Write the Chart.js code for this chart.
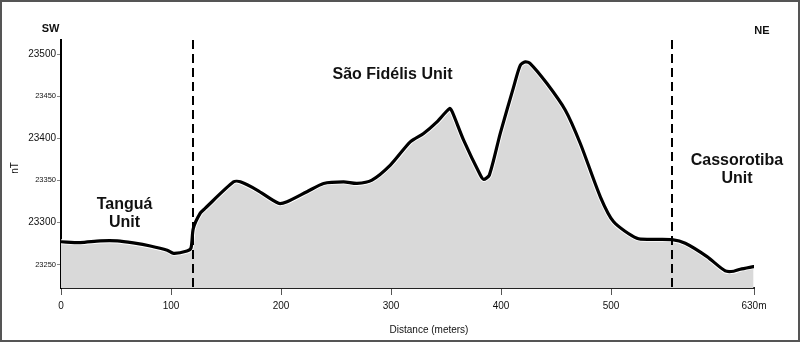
<!DOCTYPE html>
<html>
<head>
<meta charset="utf-8">
<script src="https://cdn.jsdelivr.net/npm/chart.js@4/dist/chart.umd.min.js"></script>
<style>
html,body{margin:0;padding:0;background:#fff;}
canvas{display:block;}
</style>
</head>
<body>
<canvas id="c" width="800" height="342"></canvas>
<script>
// Distance along profile (m)
const distance = [0, 17.5, 35.7, 51.2, 65.7, 81.2, 96.6, 102.4, 114.5, 118.2, 120.3, 126.6, 131.2, 156.9, 163, 178.2, 197.8, 205.5, 223.6, 238.7, 256.9, 269.1, 282.7, 299.4, 317.5, 329.6, 341.8, 353.3, 355.7, 366, 381.2, 384.2, 389.4, 399.4, 411.5, 417.5, 422.1, 426.6, 441.8, 458.5, 472.1, 490.3, 502.4, 523.6, 538.7, 555.5, 567.5, 587.3, 603.9, 611.5, 617.5, 629.6];
// Total magnetic field (nT)
const field = [23277, 23276, 23278, 23278, 23275.6, 23272, 23267, 23263.3, 23266, 23269.6, 23293, 23311, 23317, 23348.3, 23348.3, 23338.5, 23322.7, 23324.6, 23336.5, 23346.4, 23348.3, 23346.4, 23350.4, 23368.2, 23395.8, 23405.8, 23419.6, 23435.5, 23431.5, 23397.9, 23356.3, 23351.2, 23356.3, 23406.2, 23461.2, 23486.9, 23490.9, 23489, 23465.2, 23433.5, 23393.9, 23330.5, 23300.8, 23281.1, 23279.9, 23279.5, 23275.2, 23259.3, 23242.3, 23241.9, 23244.3, 23247.4];
const xTicks = [0, 100, 200, 300, 400, 500, 630];
const yTicks = [23250, 23300, 23350, 23400, 23450, 23500];
const unitBoundaries = [120, 555];
const unitLabels = [
  {lines: ['Tanguá', 'Unit'], x: 124.5},
  {lines: ['São Fidélis Unit'], x: 392.5},
  {lines: ['Cassorotiba', 'Unit'], x: 737}
];

const makePoints = () => distance.map((d, i) => ({x: d, y: field[i]}));

const overlay = {
  id: 'overlay',
  afterDraw(chart) {
    const ctx = chart.ctx;
    const xs = chart.scales.x, area = chart.chartArea;
    ctx.save();
    // dashed unit boundaries
    ctx.strokeStyle = '#000';
    ctx.lineWidth = 2;
    ctx.setLineDash([9, 5]);
    unitBoundaries.forEach(v => {
      const px = Math.round(xs.getPixelForValue(v));
      ctx.beginPath();
      ctx.moveTo(px, area.top);
      ctx.lineTo(px, area.bottom);
      ctx.stroke();
    });
    ctx.setLineDash([]);
    // texts
    ctx.fillStyle = '#111';
    ctx.textAlign = 'center';
    ctx.textBaseline = 'alphabetic';
    ctx.font = 'bold 16px "Liberation Sans", Arial, sans-serif';
    ctx.fillText(unitLabels[0].lines[0], unitLabels[0].x, 208.5);
    ctx.fillText(unitLabels[0].lines[1], unitLabels[0].x, 227);
    ctx.fillText(unitLabels[1].lines[0], unitLabels[1].x, 78.5);
    ctx.fillText(unitLabels[2].lines[0], unitLabels[2].x, 165);
    ctx.fillText(unitLabels[2].lines[1], unitLabels[2].x, 183);
    ctx.font = 'bold 11px "Liberation Sans", Arial, sans-serif';
    ctx.fillText('SW', 50.5, 31.5);
    ctx.fillText('NE', 762, 33.5);
    ctx.font = '10px "Liberation Sans", Arial, sans-serif';
    ctx.fillText('Distance (meters)', 429, 333);
    ctx.save();
    ctx.translate(18, 168);
    ctx.rotate(-Math.PI / 2);
    ctx.fillText('nT', 0, 0);
    ctx.restore();
    // frame
    ctx.strokeStyle = '#555';
    ctx.lineWidth = 2;
    ctx.strokeRect(1, 1, 798, 340);
    ctx.restore();
  }
};

new Chart(document.getElementById('c'), {
  type: 'line',
  data: {
    datasets: [
      {
        data: makePoints(),
        order: 0,
        borderColor: '#000000',
        borderWidth: 3.2,
        fill: false,
        pointRadius: 0,
        tension: 0.25,
        borderJoinStyle: 'round',
        borderCapStyle: 'round'
      },
      {
        data: makePoints(),
        order: 1,
        borderColor: '#ffffff',
        borderWidth: 5,
        backgroundColor: '#d9d9d9',
        fill: 'start',
        pointRadius: 0,
        tension: 0.25
      }
    ]
  },
  options: {
    responsive: false,
    animation: false,
    devicePixelRatio: 1,
    layout: {padding: {left: 0, right: 46, top: 40, bottom: 0}},
    plugins: {legend: {display: false}, tooltip: {enabled: false}},
    scales: {
      x: {
        type: 'linear',
        min: 0,
        max: 630,
        z: 1,
        afterBuildTicks: s => { s.ticks = xTicks.map(v => ({value: v})); },
        afterFit: s => { s.height = 54; },
        border: {display: true, color: '#222', width: 2},
        grid: {display: true, drawOnChartArea: false, drawTicks: true, tickLength: 7, color: '#555', lineWidth: 1},
        ticks: {
          padding: 5,
          color: '#111',
          maxRotation: 0,
          font: {family: '"Liberation Sans", Arial, sans-serif', size: 10},
          callback: v => v === 630 ? '630m' : String(v)
        }
      },
      y: {
        type: 'linear',
        min: 23222,
        max: 23517,
        z: 1,
        afterBuildTicks: s => { s.ticks = yTicks.map(v => ({value: v})); },
        afterFit: s => { s.width = 61; },
        border: {display: true, color: '#000', width: 2},
        grid: {display: true, drawOnChartArea: false, drawTicks: true, tickLength: 4, color: '#888', lineWidth: 1},
        ticks: {
          padding: 1,
          color: '#111',
          font: c => (c.tick && c.tick.value % 100 === 0)
            ? {family: '"Liberation Sans", Arial, sans-serif', size: 10}
            : {family: '"Liberation Sans", Arial, sans-serif', size: 7.5},
          callback: v => String(v)
        }
      }
    }
  },
  plugins: [overlay]
});
</script>
</body>
</html>
